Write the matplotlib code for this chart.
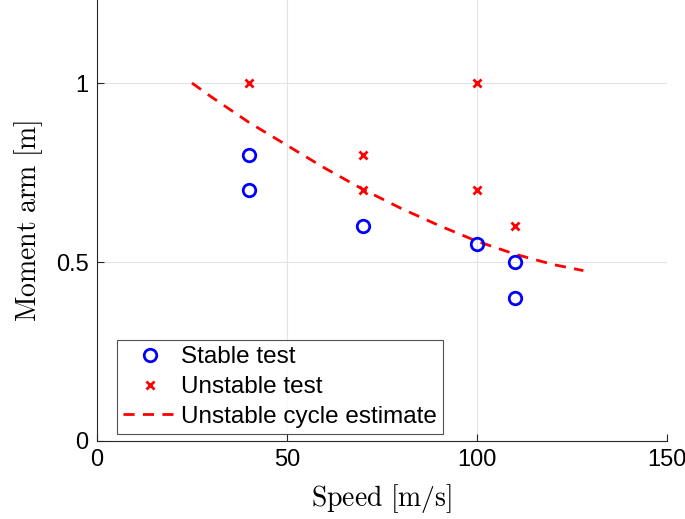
import numpy as np
import matplotlib
matplotlib.use("Agg")
import matplotlib.pyplot as plt

plt.rcParams['font.family'] = ['Liberation Sans', 'DejaVu Sans']
plt.rcParams['mathtext.fontset'] = 'cm'

# stable / unstable test points
stable_speed = [40, 40, 70, 100, 110, 110]
stable_arm = [0.8, 0.7, 0.6, 0.55, 0.5, 0.4]
unstable_speed = [40, 70, 70, 100, 100, 110]
unstable_arm = [1.0, 0.8, 0.7, 1.0, 0.7, 0.6]

# unstable cycle estimate
est_speed = [25, 30, 40, 50, 60, 70, 80, 90, 100, 110, 120, 128]
est_arm = [1.0, 0.962, 0.89, 0.826, 0.762, 0.703, 0.65, 0.602, 0.558, 0.522, 0.493, 0.476]

xticks = [0, 50, 100, 150]
yticks = [0, 0.5, 1]

fig = plt.figure(figsize=(6.85, 5.19), dpi=100)
ax = fig.add_axes([0.1416, 0.1503, 0.8321, 0.8497])

ax.plot(stable_speed, stable_arm, 'o', mfc='none', mec=(0, 0, 1), mew=2, ms=9,
        ls='none', label='Stable test', zorder=3)
ax.plot(unstable_speed, unstable_arm, 'x', color=(1, 0, 0), mew=2, ms=6,
        ls='none', label='Unstable test', zorder=3)
ax.plot(est_speed, est_arm, '--', color=(1, 0, 0), lw=2, dashes=(4, 3),
        label='Unstable cycle estimate', zorder=2)

ax.set_xlim(0, 150)
ax.set_ylim(0, 1.232)
ax.set_xticks(xticks)
ax.set_xticklabels([str(t) for t in xticks])
ax.set_yticks(yticks)
ax.set_yticklabels(['0', '0.5', '1'])
ax.tick_params(direction='in', length=5, width=0.8, labelsize=17, colors='#262626',
               labelcolor='black', pad=6)
ax.grid(True, color='#e3e3e3', lw=0.8)
ax.set_axisbelow(True)
for s in ['top', 'right']:
    ax.spines[s].set_visible(False)
for s in ['left', 'bottom']:
    ax.spines[s].set_color('#262626')
    ax.spines[s].set_linewidth(0.8)

ax.set_xlabel(r'$\mathrm{Speed\ [m/s]}$', fontsize=20, labelpad=8)
ax.set_ylabel(r'$\mathrm{Moment\ arm\ [m]}$', fontsize=20, labelpad=8)

leg = ax.legend(loc='lower left', bbox_to_anchor=(0.035, 0.016), fontsize=17.5,
                frameon=True, fancybox=False, edgecolor='#262626',
                handlelength=2.2, handletextpad=0.2, borderpad=0.25,
                labelspacing=0.32, borderaxespad=0)
leg.get_frame().set_linewidth(0.8)

fig.savefig('out.png', dpi=100)
